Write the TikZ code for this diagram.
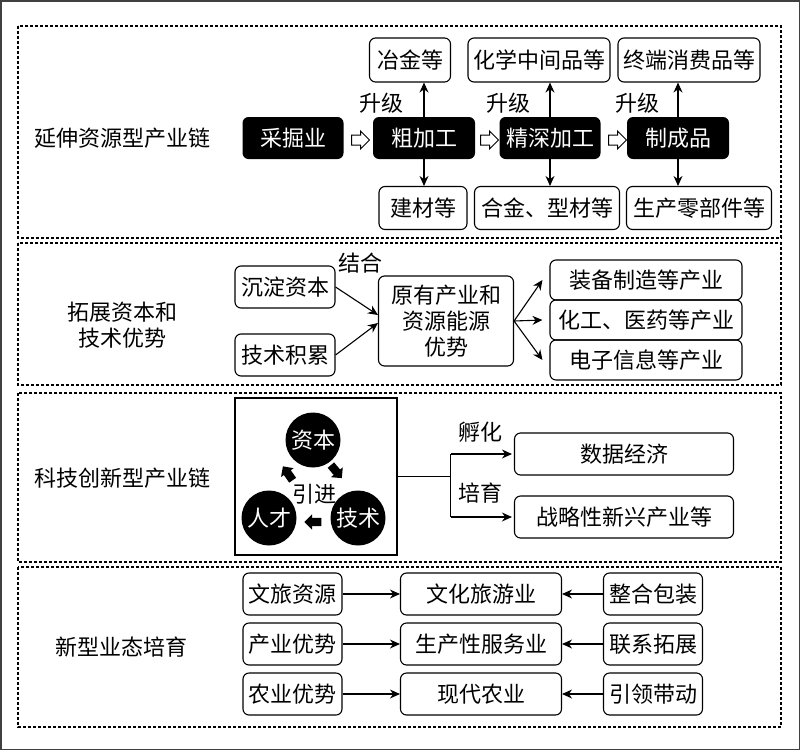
\documentclass[tikz,border=0pt]{standalone}
\usepackage{fontspec}
\setmainfont{Noto Sans CJK SC}
\usetikzlibrary{arrows.meta,shapes.arrows}

\tikzstyle{bS}=[rounded corners=6pt,fill=black,text=white,inner sep=0pt,minimum height=42pt]
\tikzstyle{wS}=[rounded corners=6pt,draw,line width=1.1pt,inner sep=0pt,minimum height=42pt,align=center]
\tikzstyle{cS}=[circle,fill=black,text=white,inner sep=0pt,minimum size=55pt]
\tikzstyle{pS}=[draw,line width=1.1pt,dash pattern=on 3pt off 2pt]
\tikzstyle{aS}=[line width=1.1pt,-{Stealth[length=10pt,width=9pt]}]
\tikzstyle{hS}=[single arrow,draw,line width=1pt,fill=white,inner sep=4.5pt,single arrow head extend=4pt,minimum height=18pt]
\tikzstyle{kS}=[single arrow,fill=black,inner sep=4pt,single arrow head extend=3.5pt,minimum height=17pt]
\tikzstyle{tS}=[inner sep=0pt,align=center]

\begin{document}
\begin{tikzpicture}[x=1pt,y=-1pt,font=\fontsize{22}{26}\selectfont]
    \useasboundingbox (0,0) rectangle (800,750);
    \draw[line width=1.5pt,black!75] (0.75,0.75) rectangle (799.25,749.25);
    % panels
    \draw[pS] (18,26) rectangle (781,238);
    \draw[pS] (18,243) rectangle (781,385);
    \draw[pS] (18,393) rectangle (781,562);
    \draw[pS] (18,567) rectangle (781,727);

    % resource chain
    \draw (122,138) node[tS] (l1) {延伸资源型产业链};
    \draw (293,138) node[bS,minimum width=101pt] (b1) {采掘业};
    \draw (424,138) node[bS,minimum width=102pt] (b2) {粗加工};
    \draw (550,138) node[bS,minimum width=101pt] (b3) {精深加工};
    \draw (678,138) node[bS,minimum width=102pt] (b4) {制成品};
    \draw (358,140) node[hS] (h1) {};
    \draw (487,140) node[hS] (h2) {};
    \draw (615,140) node[hS] (h3) {};
    \draw (410,60) node[wS,minimum width=81pt,minimum height=44pt] (t1) {冶金等};
    \draw (539,60) node[wS,minimum width=142pt,minimum height=44pt] (t2) {化学中间品等};
    \draw (689,60) node[wS,minimum width=142pt,minimum height=44pt] (t3) {终端消费品等};
    \draw (423,208) node[wS,minimum width=88pt,minimum height=43pt] (d1) {建材等};
    \draw (547,208) node[wS,minimum width=145pt,minimum height=43pt] (d2) {合金、型材等};
    \draw (699,208) node[wS,minimum width=145pt,minimum height=43pt] (d3) {生产零部件等};
    \draw (381,103) node[tS] (u1) {升级};
    \draw (508,103) node[tS] (u2) {升级};
    \draw (637,103) node[tS] (u3) {升级};
    \path
        (b2.north) edge[aS] (b2.north |- t1.south)
        (b3.north) edge[aS] (b3.north |- t2.south)
        (b4.north) edge[aS] (b4.north |- t3.south)
        (b2.south) edge[aS] (b2.south |- d1.north)
        (b3.south) edge[aS] (b3.south |- d2.north)
        (b4.south) edge[aS] (b4.south |- d3.north)
    ;

    % capital and technology
    \draw (122,325) node[tS] (l2) {拓展资本和\\技术优势};
    \draw (285,287) node[wS,minimum width=100pt] (s1) {沉淀资本};
    \draw (285,355) node[wS,minimum width=100pt] (s2) {技术积累};
    \draw (360,263) node[tS] (jh) {结合};
    \draw (446,321) node[wS,minimum width=135pt,minimum height=90pt] (m) {原有产业和\\资源能源\\优势};
    \draw (646,280) node[wS,minimum width=192pt,minimum height=40pt] (r1) {装备制造等产业};
    \draw (646,320) node[wS,minimum width=192pt,minimum height=40pt] (r2) {化工、医药等产业};
    \draw (646,360) node[wS,minimum width=192pt,minimum height=40pt] (r3) {电子信息等产业};
    \path
        (s1.east) edge[aS] ([yshift=6pt]m.west)
        (s2.east) edge[aS] ([yshift=-2pt]m.west)
        (m.east) edge[aS] ([xshift=-7pt]r1.west)
        (m.east) edge[aS] ([xshift=-7pt]r2.west)
        (m.east) edge[aS] ([xshift=-7pt]r3.west)
    ;

    % innovation chain
    \draw (122,478) node[tS] (l3) {科技创新型产业链};
    \draw (316,476.5) node[draw,line width=1.1pt,minimum width=162pt,minimum height=157pt] (sq) {};
    \draw (313,440) node[cS] (c1) {资本};
    \draw (269,518) node[cS] (c2) {人才};
    \draw (358,518) node[cS] (c3) {技术};
    \draw (314,494) node[tS] (yj) {引进};
    \draw (289,475) node[kS,rotate=125] (k1) {};
    \draw (335,470) node[kS,rotate=-50] (k2) {};
    \draw (315,522) node[kS,rotate=180] (k3) {};
    \draw (624,454) node[wS,minimum width=219pt] (e1) {数据经济};
    \draw (624,517) node[wS,minimum width=219pt] (e2) {战略性新兴产业等};
    \draw (480,432) node[tS] (fh) {孵化};
    \draw (480,493) node[tS] (py) {培育};
    \draw[line width=1.1pt] (sq.east) -- ++(53,0) coordinate (fork);
    \draw[line width=1.1pt] (fork |- e1) -- (fork |- e2);
    \path
        (fork |- e1) edge[aS] ([xshift=-2pt]e1.west)
        (fork |- e2) edge[aS] ([xshift=-2pt]e2.west)
    ;

    % new formats
    \draw (121,647) node[tS] (l4) {新型业态培育};
    \draw (292.5,594) node[wS,minimum width=99pt] (p1) {文旅资源};
    \draw (292.5,644) node[wS,minimum width=99pt] (p2) {产业优势};
    \draw (292.5,694) node[wS,minimum width=99pt] (p3) {农业优势};
    \draw (481,594) node[wS,minimum width=161pt] (q1) {文化旅游业};
    \draw (481,644) node[wS,minimum width=161pt] (q2) {生产性服务业};
    \draw (481,694) node[wS,minimum width=161pt] (q3) {现代农业};
    \draw (653,594) node[wS,minimum width=99pt] (v1) {整合包装};
    \draw (653,644) node[wS,minimum width=99pt] (v2) {联系拓展};
    \draw (653,694) node[wS,minimum width=99pt] (v3) {引领带动};
    \path
        (p1.east) edge[aS] (q1.west)
        (p2.east) edge[aS] (q2.west)
        (p3.east) edge[aS] (q3.west)
        (v1.west) edge[aS] (q1.east)
        (v2.west) edge[aS] (q2.east)
        (v3.west) edge[aS] (q3.east)
    ;
\end{tikzpicture}
\end{document}
